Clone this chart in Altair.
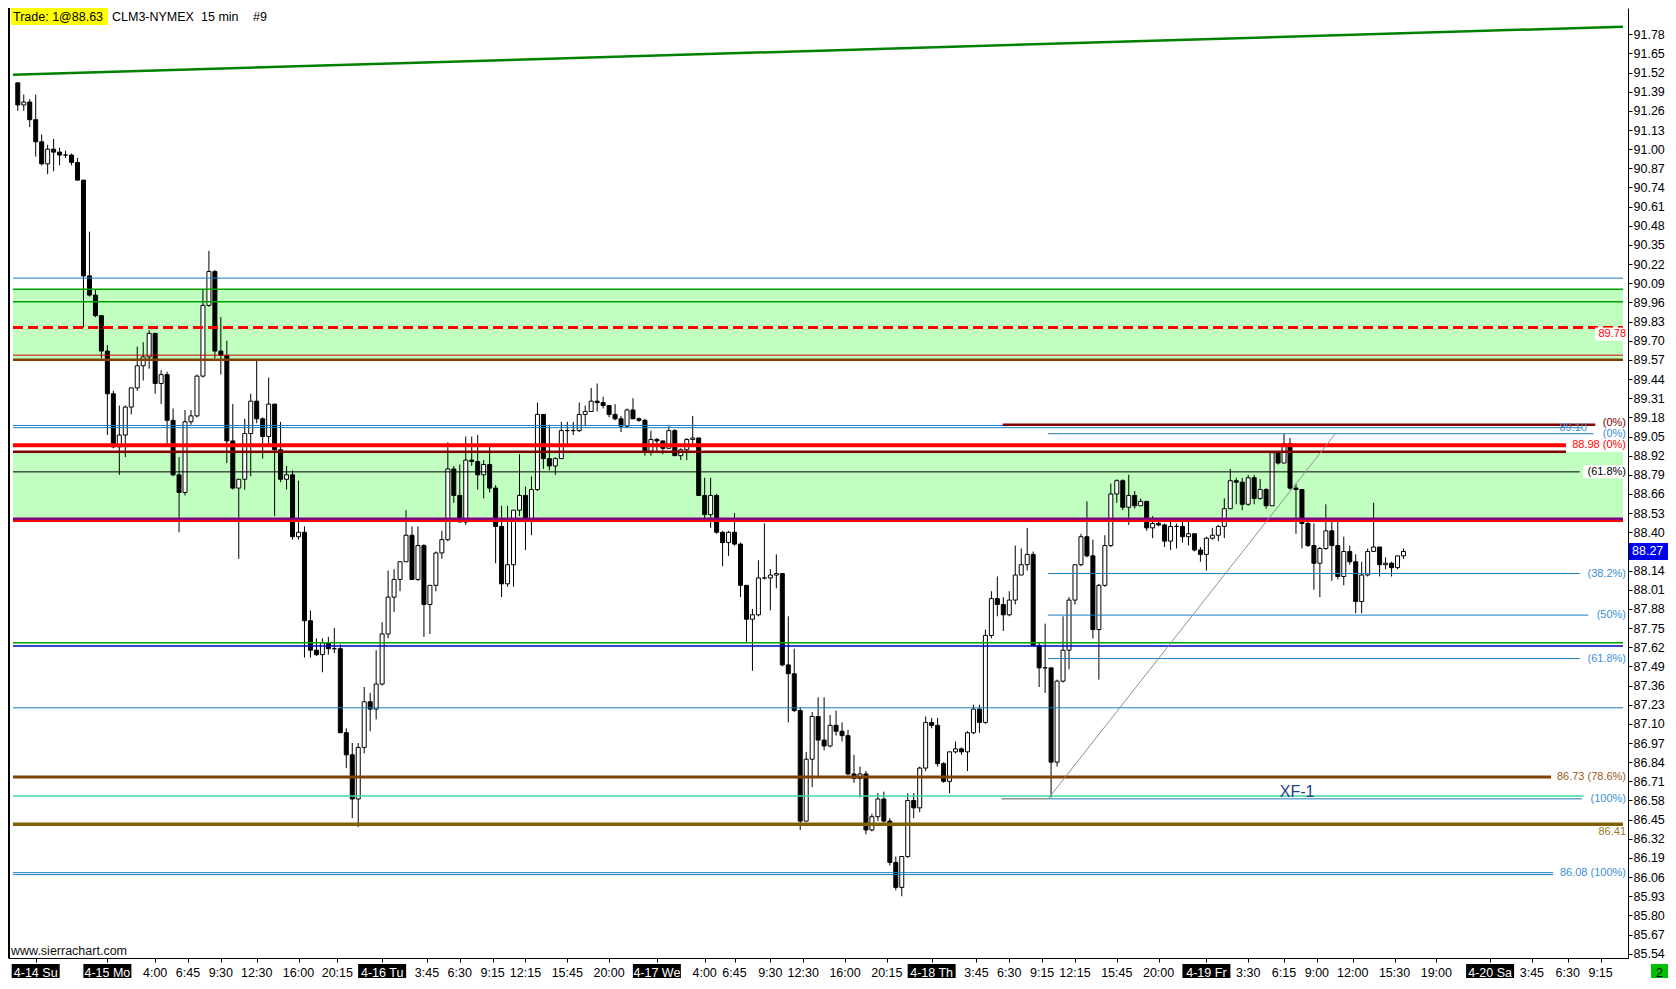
import altair as alt
import pandas as pd

# ---------------- data (30-minute bars) ----------------
FIRST_OPEN = 91.45
HIGH = [91.45, 91.37, 91.34, 91.37, 91.10, 91.03, 91.07, 91.01, 90.99, 90.97,
        90.94, 90.79, 90.44, 90.05, 89.87, 89.67, 89.36, 89.26, 89.26, 89.38,
        89.66, 89.69, 89.77, 89.75, 89.50, 89.49, 89.24, 88.91, 89.23, 89.23,
        89.47, 90.05, 90.31, 90.18, 89.86, 89.70, 89.27, 88.76, 89.17, 89.34,
        89.57, 89.18, 89.45, 89.27, 89.15, 88.85, 88.82, 88.75, 88.44, 87.87,
        87.68, 87.68, 87.69, 87.75, 87.64, 87.07, 86.97, 86.97, 87.35, 87.31,
        87.60, 87.79, 88.14, 88.15, 88.20, 88.55, 88.44, 88.44, 88.32, 88.04,
        88.27, 88.41, 89.01, 88.85, 88.86, 89.05, 89.05, 89.06, 88.89, 89.00,
        88.72, 88.58, 88.58, 88.55, 88.93, 88.71, 88.78, 89.28, 89.20, 89.13,
        88.91, 89.15, 89.15, 89.15, 89.28, 89.26, 89.38, 89.41, 89.32, 89.26,
        89.27, 89.19, 89.24, 89.31, 89.18, 89.17, 89.09, 89.04, 89.02, 89.12,
        89.10, 88.97, 89.04, 89.19, 89.04, 88.77, 88.77, 88.66, 88.41, 88.41,
        88.53, 88.33, 88.04, 87.88, 88.21, 88.46, 88.15, 88.25, 88.12, 87.83,
        87.61, 87.21, 86.91, 87.18, 87.28, 87.28, 87.16, 87.19, 87.11, 87.06,
        86.89, 86.81, 86.78, 86.49, 86.63, 86.64, 86.46, 86.20, 86.20, 86.63,
        86.63, 86.81, 87.15, 87.14, 87.14, 86.84, 86.91, 86.98, 86.94, 87.05,
        87.23, 87.23, 87.74, 88.00, 88.10, 87.96, 88.00, 88.31, 88.29, 88.43,
        88.27, 87.65, 87.78, 87.48, 87.40, 87.83, 87.96, 88.18, 88.39, 88.61,
        88.35, 88.05, 88.38, 88.73, 88.76, 88.76, 88.79, 88.68, 88.63, 88.61,
        88.51, 88.49, 88.46, 88.48, 88.46, 88.48, 88.48, 88.39, 88.30, 88.37,
        88.43, 88.45, 88.63, 88.83, 88.77, 88.77, 88.79, 88.79, 88.76, 88.70,
        88.95, 88.94, 89.07, 89.04, 88.73, 88.67, 88.48, 88.46, 88.30, 88.59,
        88.47, 88.47, 88.37, 88.31, 88.25, 88.20, 88.29, 88.60, 88.30, 88.23,
        88.20, 88.24, 88.29]
LOW = [91.26, 91.26, 91.15, 90.95, 90.89, 90.83, 90.85, 90.89, 90.94, 90.89,
       90.79, 89.79, 90.00, 89.86, 89.58, 89.06, 88.97, 88.79, 88.91, 89.20,
       89.36, 89.43, 89.51, 89.34, 89.27, 88.98, 88.78, 88.40, 88.65, 89.13,
       89.18, 89.45, 89.93, 89.58, 89.47, 88.87, 88.69, 88.22, 88.69, 88.78,
       89.14, 88.90, 89.00, 88.51, 88.74, 88.69, 88.35, 88.35, 87.55, 87.55,
       87.56, 87.45, 87.57, 87.58, 87.04, 86.80, 86.46, 86.40, 86.90, 87.05,
       87.13, 87.36, 87.68, 87.86, 88.00, 88.20, 88.08, 88.07, 87.69, 87.71,
       88.00, 88.22, 88.34, 88.60, 88.47, 88.45, 88.85, 88.69, 88.63, 88.67,
       88.19, 87.96, 88.03, 88.03, 88.51, 88.28, 88.38, 88.68, 88.83, 88.82,
       88.79, 88.90, 88.98, 89.06, 89.08, 89.12, 89.22, 89.22, 89.24, 89.18,
       89.16, 89.08, 89.11, 89.17, 89.15, 88.92, 88.92, 88.94, 88.93, 88.97,
       88.92, 88.89, 88.89, 89.00, 88.65, 88.48, 88.43, 88.39, 88.17, 88.24,
       88.31, 87.96, 87.65, 87.46, 87.83, 88.08, 87.87, 88.02, 87.49, 87.11,
       87.18, 86.38, 86.44, 86.67, 86.74, 86.92, 86.94, 87.02, 86.98, 86.75,
       86.70, 86.60, 86.35, 86.37, 86.44, 86.43, 86.14, 85.97, 85.93, 86.19,
       86.46, 86.50, 86.78, 87.07, 86.81, 86.70, 86.63, 86.90, 86.89, 86.78,
       87.03, 87.04, 87.10, 87.68, 87.83, 87.73, 87.83, 87.91, 88.11, 88.14,
       87.63, 87.35, 87.31, 86.60, 86.81, 87.38, 87.47, 87.91, 88.17, 88.23,
       87.68, 87.40, 88.03, 88.30, 88.60, 88.55, 88.45, 88.56, 88.58, 88.41,
       88.36, 88.44, 88.30, 88.28, 88.29, 88.33, 88.31, 88.27, 88.20, 88.14,
       88.35, 88.34, 88.36, 88.56, 88.59, 88.55, 88.58, 88.59, 88.62, 88.56,
       88.58, 88.86, 88.87, 88.69, 88.39, 88.29, 88.30, 88.01, 87.96, 88.28,
       88.07, 88.08, 88.04, 88.18, 87.85, 87.85, 88.10, 88.27, 88.10, 88.15,
       88.10, 88.15, 88.22]
CLOSE = [91.30, 91.32, 91.20, 91.05, 90.90, 91.00, 90.98, 90.96, 90.96, 90.91,
         90.79, 90.14, 90.01, 89.87, 89.63, 89.34, 88.98, 89.06, 89.25, 89.38,
         89.53, 89.59, 89.75, 89.41, 89.47, 89.16, 88.79, 88.67, 89.15, 89.19,
         89.46, 89.94, 90.17, 89.63, 89.60, 89.02, 88.70, 88.76, 89.07, 89.29,
         89.17, 89.05, 89.27, 88.96, 88.76, 88.79, 88.37, 88.40, 87.80, 87.60,
         87.57, 87.65, 87.61, 87.61, 87.04, 86.89, 86.59, 86.94, 87.25, 87.20,
         87.37, 87.71, 87.96, 88.08, 88.20, 88.38, 88.08, 88.31, 87.91, 88.04,
         88.26, 88.35, 88.83, 88.65, 88.47, 88.89, 88.88, 88.79, 88.86, 88.70,
         88.44, 88.05, 88.18, 88.55, 88.65, 88.49, 88.69, 89.20, 88.90, 88.85,
         88.90, 89.09, 89.09, 89.09, 89.20, 89.22, 89.29, 89.28, 89.26, 89.20,
         89.17, 89.12, 89.23, 89.17, 89.16, 88.95, 89.03, 89.02, 88.97, 89.09,
         88.92, 88.96, 89.03, 89.04, 88.65, 88.52, 88.65, 88.40, 88.33, 88.40,
         88.32, 88.04, 87.81, 87.84, 88.09, 88.09, 88.11, 88.12, 87.50, 87.44,
         87.19, 86.44, 86.86, 87.15, 86.99, 86.95, 87.09, 87.05, 87.02, 86.76,
         86.73, 86.76, 86.38, 86.47, 86.59, 86.44, 86.16, 85.99, 86.20, 86.58,
         86.53, 86.80, 87.11, 87.09, 86.83, 86.71, 86.91, 86.93, 86.91, 87.04,
         87.20, 87.11, 87.70, 87.95, 87.91, 87.84, 87.94, 88.11, 88.18, 88.25,
         87.63, 87.48, 87.48, 86.84, 87.39, 87.60, 87.94, 88.18, 88.37, 88.24,
         87.74, 88.04, 88.31, 88.66, 88.75, 88.57, 88.65, 88.58, 88.61, 88.43,
         88.46, 88.45, 88.34, 88.44, 88.44, 88.37, 88.39, 88.28, 88.25, 88.36,
         88.38, 88.44, 88.56, 88.75, 88.74, 88.59, 88.77, 88.63, 88.69, 88.58,
         88.94, 88.87, 89.00, 88.70, 88.69, 88.46, 88.31, 88.19, 88.29, 88.41,
         88.31, 88.10, 88.27, 88.20, 87.93, 88.11, 88.27, 88.30, 88.18, 88.19,
         88.16, 88.24, 88.27]

# x-axis ticks (15-minute slot index) and their texts
TICK_POS = [0, 24, 40, 51, 62, 74, 88, 101, 116, 131, 142, 153, 164, 178, 192,
            208, 224, 234, 246, 257, 271, 285, 300, 315, 326, 337, 348, 362, 376,
            392, 406, 418, 429, 441, 455, 469, 487, 501, 513, 524]
TICK_TXT = ["4-14 Su", "4-15 Mo", "4:00", "6:45", "9:30", "12:30", "16:00", "20:15",
            "4-16 Tu", "3:45", "6:30", "9:15", "12:15", "15:45", "20:00",
            "4-17 We", "4:00", "6:45", "9:30", "12:30", "16:00", "20:15",
            "4-18 Th", "3:45", "6:30", "9:15", "12:15", "15:45", "20:00",
            "4-19 Fr", "3:30", "6:15", "9:00", "12:00", "15:30", "19:00",
            "4-20 Sa", "3:45", "6:30", "9:15"]

Y_TICKS = [85.54, 85.67, 85.80, 85.93, 86.06, 86.19, 86.32, 86.45, 86.58, 86.71,
           86.84, 86.97, 87.10, 87.23, 87.36, 87.49, 87.62, 87.75, 87.88, 88.01,
           88.14, 88.27, 88.40, 88.53, 88.66, 88.79, 88.92, 89.05, 89.18, 89.31,
           89.44, 89.57, 89.70, 89.83, 89.96, 90.09, 90.22, 90.35, 90.48, 90.61,
           90.74, 90.87, 91.00, 91.13, 91.26, 91.39, 91.52, 91.65, 91.78]

X0, X1 = -7.6, 531.5
Y0, Y1 = 85.511, 91.958

# horizontal levels
LEVEL_PRICE = [90.125, 90.05, 89.965, 89.602, 89.571, 89.125, 89.11, 89.13, 89.069,
               88.99, 88.946, 88.81, 88.492, 88.477, 88.12, 87.838, 87.651, 87.629,
               87.543, 87.209, 86.74, 86.61, 86.591, 86.591, 86.418, 86.09, 86.077]
LEVEL_FROM = [X0, X0, X0, X0, X0, X0, X0, 323.8, 339.0,
              X0, X0, X0, X0, X0, 339.0, 339.0, X0, X0,
              339.0, X0, X0, X0, 323.4, 339.0, X0, X0, X0]
LEVEL_TO = [X1, X1, X1, X1, X1, 517.7, 517.7, 522.2, 521.6,
            512.4, 512.4, 517.0, X1, X1, 517.0, 519.9, X1, X1,
            517.0, X1, 507.4, 518.3, 339.0, 517.7, X1, 508.1, 508.1]
BLUE = "#1a7dc0"
LEVEL_COLOR = [BLUE, "#00a000", "#00a000", "#d00000", "#804000", BLUE, BLUE, "#800000", BLUE,
               "#ff0000", "#800000", "#000000", "#800080", "#ff0000", BLUE, BLUE, "#00a000", "#0000cc",
               BLUE, BLUE, "#804000", "#40d8a0", "#909090", BLUE, "#806000", BLUE, BLUE]
LEVEL_WIDTH = [1, 1.5, 1.5, 1, 2.5, 1, 1, 2.5, 1,
               4, 2.5, 1, 2.5, 2, 1, 1, 1.5, 1.5,
               1, 1, 3, 1.5, 1.5, 1, 3.5, 1, 1]
DASHED_PRICE = 89.79
BANDS_TOP = [90.05, 88.946]
BANDS_BOT = [89.57, 88.49]
TREND_X = [X0, X1]
TREND_Y = [91.505, 91.831]
FIB_X = [339.0, 435.2]
FIB_Y = [86.591, 89.069]

LBL_TXT = ["89.78", "(0%)", "(0%)", "88.98  (0%)", "(61.8%)", "(38.2%)", "(50%)",
           "(61.8%)", "86.73  (78.6%)", "(100%)", "86.41", "86.08  (100%)"]
LBL_PRICE = [89.745, 89.14, 89.065, 88.99, 88.81, 88.12, 87.838, 87.543, 86.74,
             86.59, 86.365, 86.085]
LAB_BLUE = "#3a8fd6"
LBL_COLOR = ["#ff0000", "#800000", LAB_BLUE, "#ff0000", "#000000", LAB_BLUE, LAB_BLUE,
             LAB_BLUE, "#9a5a1a", LAB_BLUE, "#9a7a1a", LAB_BLUE]

LAST_PRICE = 88.27

# ---------------- chart ----------------
W, H = 1620, 950
FONT = "Liberation Sans"
xs = alt.Scale(domain=[X0, X1], nice=False, zero=False)
ys = alt.Scale(domain=[Y0, Y1], nice=False, zero=False)

n = len(CLOSE)
opens = [FIRST_OPEN] + CLOSE[:-1]
cd = pd.DataFrame({"t": [2 * j - 6 for j in range(n)], "o": opens,
                   "h": HIGH, "l": LOW, "c": CLOSE})
cd["hi"] = cd[["h", "o", "c"]].max(axis=1)
cd["lo"] = cd[["l", "o", "c"]].min(axis=1)
cd["fillc"] = ["white" if c >= o else "black" for o, c in zip(cd.o, cd.c)]

one = pd.DataFrame({"a": [0]})

bands = alt.Chart(pd.DataFrame({"x0": [X0, X0], "x1": [X1, X1],
                                "top": BANDS_TOP, "bot": BANDS_BOT})).mark_rect(
    color="#c0ffc0").encode(
    x=alt.X("x0:Q", scale=xs, axis=None), x2="x1:Q",
    y=alt.Y("top:Q", scale=ys, axis=None), y2="bot:Q")

# axis carrier layer (first, so the axes keep their definition)
axes = alt.Chart(pd.DataFrame({"t": [X0, X1], "p": [Y0, Y1]})).mark_point(opacity=0).encode(
    x=alt.X("t:Q", scale=xs,
            axis=alt.Axis(values=TICK_POS, labels=False, tickSize=4, tickColor="black",
                          domainColor="black", grid=False, title=None)),
    y=alt.Y("p:Q", scale=ys,
            axis=alt.Axis(orient="right", values=Y_TICKS, format=".2f", labelFont=FONT,
                          labelFontSize=12.5, labelColor="black", tickColor="black",
                          tickSize=4, labelPadding=1, domainColor="black", grid=False,
                          title=None, labelOverlap=False)))

wicks = alt.Chart(cd).mark_rule(color="black", strokeWidth=1).encode(
    x=alt.X("t:Q", scale=xs, axis=None),
    y=alt.Y("lo:Q", scale=ys, axis=None), y2="hi:Q")

bodies = alt.Chart(cd).mark_bar(size=4, stroke="black", strokeWidth=1).encode(
    x=alt.X("t:Q", scale=xs, axis=None),
    y=alt.Y("o:Q", scale=ys, axis=None), y2="c:Q",
    fill=alt.Fill("fillc:N", scale=None))

lv = pd.DataFrame({"p": LEVEL_PRICE, "x0": LEVEL_FROM, "x1": LEVEL_TO,
                   "col": LEVEL_COLOR, "w": LEVEL_WIDTH})
levels = alt.Chart(lv).mark_rule().encode(
    x=alt.X("x0:Q", scale=xs, axis=None), x2="x1:Q",
    y=alt.Y("p:Q", scale=ys, axis=None),
    color=alt.Color("col:N", scale=None),
    strokeWidth=alt.StrokeWidth("w:Q", scale=None))

dashed = alt.Chart(pd.DataFrame({"p": [DASHED_PRICE], "x0": [X0], "x1": [X1]})).mark_rule(
    color="#ff0000", strokeWidth=3, strokeDash=[10, 5]).encode(
    x=alt.X("x0:Q", scale=xs, axis=None), x2="x1:Q",
    y=alt.Y("p:Q", scale=ys, axis=None))

trend = alt.Chart(pd.DataFrame({"x": TREND_X, "y": TREND_Y})).mark_line(
    color="#008000", strokeWidth=2.5).encode(
    x=alt.X("x:Q", scale=xs, axis=None), y=alt.Y("y:Q", scale=ys, axis=None))

fib = alt.Chart(pd.DataFrame({"x": FIB_X, "y": FIB_Y})).mark_line(
    color="#909090", strokeWidth=1).encode(
    x=alt.X("x:Q", scale=xs, axis=None), y=alt.Y("y:Q", scale=ys, axis=None))


def bg_box(price, width):
    return alt.Chart(pd.DataFrame({"p": [price]})).mark_tick(
        orient="horizontal", color="white", thickness=13, size=width, opacity=1).encode(
        x=alt.value(W - 1 - width / 2), y=alt.Y("p:Q", scale=ys, axis=None))


bgs = [bg_box(LBL_PRICE[0], 32), bg_box(LBL_PRICE[3], 58), bg_box(LBL_PRICE[4], 44)]

lb = pd.DataFrame({"txt": LBL_TXT, "p": LBL_PRICE, "col": LBL_COLOR})
labels = alt.Chart(lb).mark_text(font=FONT, fontSize=11, align="right",
                                 baseline="middle").encode(
    x=alt.value(W - 2), y=alt.Y("p:Q", scale=ys, axis=None), text="txt:N",
    color=alt.Color("col:N", scale=None))

lbl_8910 = alt.Chart(pd.DataFrame({"txt": ["89.10"], "p": [89.11]})).mark_text(
    font=FONT, fontSize=11, align="right", baseline="middle", color="#4a90d0").encode(
    x=alt.value(W - 41), y=alt.Y("p:Q", scale=ys, axis=None), text="txt:N")

xf = alt.Chart(pd.DataFrame({"txt": ["XF-1"], "x": [422.4], "p": [86.64]})).mark_text(
    font=FONT, fontSize=16, align="center", baseline="middle", color="#1f3f8f").encode(
    x=alt.X("x:Q", scale=xs, axis=None), y=alt.Y("p:Q", scale=ys, axis=None), text="txt:N")

# last price box on the axis
price_box = alt.Chart(pd.DataFrame({"p": [LAST_PRICE]})).mark_tick(
    orient="horizontal", color="#0000ee", thickness=17, size=40, opacity=1).encode(
    x=alt.value(W + 21), y=alt.Y("p:Q", scale=ys, axis=None))
price_txt = alt.Chart(pd.DataFrame({"p": [LAST_PRICE]})).mark_text(
    font=FONT, fontSize=12.5, align="left", baseline="middle", color="white").encode(
    x=alt.value(W + 4), y=alt.Y("p:Q", scale=ys, axis=None),
    text=alt.Text("p:Q", format=".2f"))

# x labels
tk = pd.DataFrame({"t": TICK_POS, "txt": TICK_TXT})
tk["day"] = tk.txt.str.contains("-")
xlab = alt.Chart(tk[~tk.day]).mark_text(font=FONT, fontSize=12.5, align="center",
                                       baseline="alphabetic", color="black").encode(
    x=alt.X("t:Q", scale=xs, axis=None), y=alt.value(H + 18.5), text="txt:N")
daybox = alt.Chart(tk[tk.day]).mark_bar(size=48, color="black").encode(
    x=alt.X("t:Q", scale=xs, axis=None), y=alt.value(H + 6), y2=alt.value(H + 21))
daylab = alt.Chart(tk[tk.day]).mark_text(font=FONT, fontSize=12.5, align="center",
                                        baseline="alphabetic", color="white").encode(
    x=alt.X("t:Q", scale=xs, axis=None), y=alt.value(H + 18.5), text="txt:N")

# chrome
left_border = alt.Chart(one).mark_rule(color="black", strokeWidth=2).encode(
    x=alt.value(1), y=alt.value(0), y2=alt.value(H))
yellow = alt.Chart(one).mark_rect(color="#ffff00").encode(
    x=alt.value(3), x2=alt.value(100), y=alt.value(0), y2=alt.value(17))
title_parts = pd.DataFrame({"txt": ["Trade: 1@88.63", "CLM3-NYMEX", "15 min", "#9"],
                            "px": [5, 104, 193, 245]})
titles = alt.Chart(title_parts).mark_text(font=FONT, fontSize=12.5, align="left",
                                          baseline="alphabetic", color="black").encode(
    x=alt.X("px:Q", scale=None), y=alt.value(13), text="txt:N")
site = alt.Chart(pd.DataFrame({"txt": ["www.sierrachart.com"]})).mark_text(
    font=FONT, fontSize=12.5, align="left", baseline="alphabetic", color="#101010").encode(
    x=alt.value(3), y=alt.value(H - 3), text="txt:N")
greenbox = alt.Chart(one).mark_rect(color="#00c000").encode(
    x=alt.value(W + 23), x2=alt.value(W + 40), y=alt.value(H + 6), y2=alt.value(H + 21))
greentxt = alt.Chart(pd.DataFrame({"txt": ["2"]})).mark_text(
    font=FONT, fontSize=12.5, align="center", baseline="alphabetic", color="black").encode(
    x=alt.value(W + 31.5), y=alt.value(H + 18.5), text="txt:N")

chart = alt.layer(
    axes, bands, trend, wicks, bodies, levels, dashed, fib, *bgs, labels, lbl_8910, xf,
    price_box, price_txt, xlab, daybox, daylab, left_border, yellow, titles, site,
    greenbox, greentxt
).resolve_axis(x="independent", y="independent").properties(
    width=W, height=H,
    padding={"left": 0, "top": 0, "right": 40, "bottom": 20},
    autosize=alt.AutoSizeParams(type="none"),
    background="white",
).configure_view(stroke=None)

chart.save("out.html", embed_options={"renderer": "svg", "actions": False})
